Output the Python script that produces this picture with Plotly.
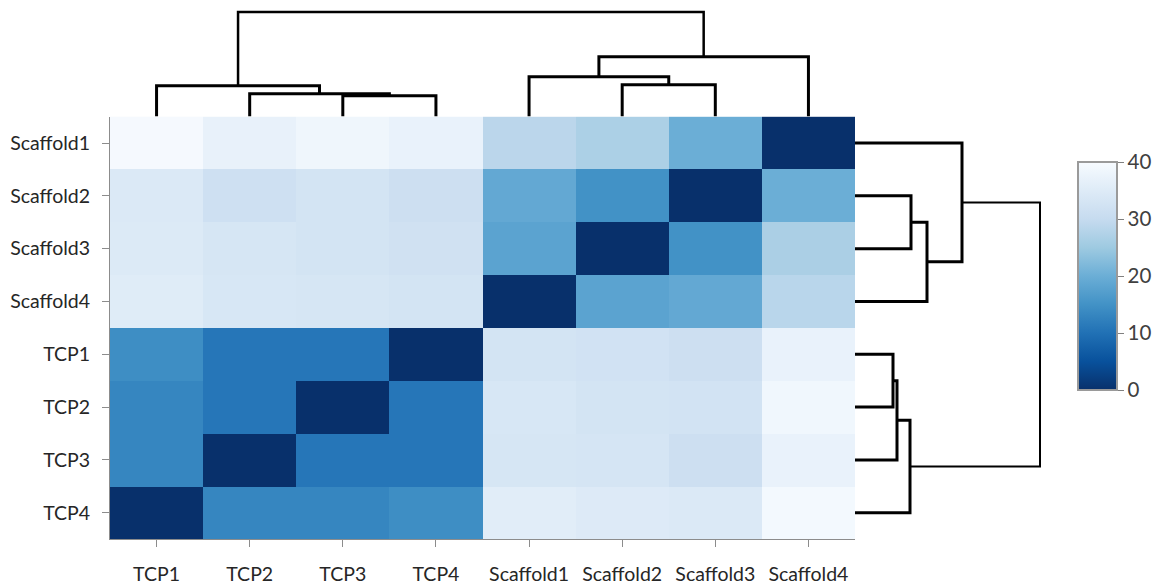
import plotly.graph_objects as go

# Column order (left to right) and row order (top to bottom)
col_labels = ["TCP1", "TCP2", "TCP3", "TCP4", "Scaffold1", "Scaffold2", "Scaffold3", "Scaffold4"]
row_labels = ["Scaffold1", "Scaffold2", "Scaffold3", "Scaffold4", "TCP1", "TCP2", "TCP3", "TCP4"]

# Distance matrix, one list per row
scaffold1 = [39.5, 37.0, 38.4, 37.2, 28.6, 26.8, 20.0, 0.0]
scaffold2 = [34.4, 31.6, 32.8, 31.4, 19.0, 15.0, 0.0, 20.0]
scaffold3 = [34.6, 33.4, 32.8, 32.0, 18.0, 0.0, 15.0, 26.6]
scaffold4 = [35.2, 33.6, 33.4, 32.8, 0.0, 18.0, 19.0, 28.4]
tcp1 = [14.4, 10.8, 10.8, 0.0, 32.8, 32.2, 31.4, 37.2]
tcp2 = [13.2, 10.8, 0.0, 10.8, 33.6, 32.8, 32.6, 38.6]
tcp3 = [13.2, 0.0, 10.8, 10.8, 33.4, 33.2, 31.4, 37.2]
tcp4 = [0.0, 13.2, 13.2, 14.4, 35.6, 34.8, 34.4, 39.3]

# Linkage merges: (child a, child b, merge height); leaves are 0..7, new nodes 8, 9, ...
col_merges = [(2, 3, 21), (1, 8, 23), (0, 9, 31), (5, 6, 32), (4, 11, 40), (12, 7, 60), (10, 13, 105)]
row_merges = [(1, 2, 56), (8, 3, 72), (0, 9, 107), (4, 5, 38), (11, 6, 42), (12, 7, 55), (10, 13, 185)]

colorbar_ticks = [0, 10, 20, 30, 40]

z = [scaffold1, scaffold2, scaffold3, scaffold4, tcp1, tcp2, tcp3, tcp4]

blues_r = [
    [0.0, "#08306b"], [0.125, "#08519c"], [0.25, "#2171b5"], [0.375, "#4292c6"],
    [0.5, "#6baed6"], [0.625, "#9ecae1"], [0.75, "#c6dbef"], [0.875, "#deebf7"],
    [1.0, "#f7fbff"],
]

W, H = 1161, 585
FONT = "Lato, 'Open Sans', sans-serif"
TEXT = "#262626"


def dendro_segments(merges, n_leaves):
    """Return list of (positions, heights, is_root) U-links for a linkage."""
    pos = {i: float(i) for i in range(n_leaves)}
    hgt = {i: 0.0 for i in range(n_leaves)}
    segs = []
    for k, (a, b, h) in enumerate(merges):
        node = n_leaves + k
        segs.append(([pos[a], pos[a], pos[b], pos[b]], [hgt[a], h, h, hgt[b]], k == len(merges) - 1))
        pos[node] = (pos[a] + pos[b]) / 2
        hgt[node] = h
    return segs


fig = go.Figure()

fig.add_trace(go.Heatmap(
    z=z, x=col_labels, y=row_labels,
    colorscale=blues_r, zmin=0, zmax=40,
    xaxis="x", yaxis="y",
    colorbar=dict(
        x=1078 / W, xanchor="left", xpad=0, ypad=0,
        y=1 - 277 / H, yanchor="middle",
        len=228, lenmode="pixels", thickness=39,
        outlinewidth=2, outlinecolor="#9a9a9a",
        tickvals=colorbar_ticks, ticks="outside", ticklen=6, tickcolor="#808080",
        tickfont=dict(family=FONT, size=20.5, color="#404040"),
    ),
))

# Column dendrogram (above the heatmap)
for xs, hs, root in dendro_segments(col_merges, len(col_labels)):
    fig.add_trace(go.Scatter(x=xs, y=hs, mode="lines", xaxis="x2", yaxis="y2",
                             line=dict(color="black", width=2.5 if root else 3),
                             hoverinfo="skip", showlegend=False))

# Row dendrogram (right of the heatmap)
for ys, hs, root in dendro_segments(row_merges, len(row_labels)):
    fig.add_trace(go.Scatter(x=hs, y=ys, mode="lines", xaxis="x3", yaxis="y3",
                             line=dict(color="black", width=2 if root else 3),
                             hoverinfo="skip", showlegend=False))

x0, x1 = 110 / W, 855 / W
y0, y1 = 1 - 541 / H, 1 - 117 / H

axis_font = dict(family=FONT, size=19.5, color=TEXT)

fig.update_layout(
    width=W, height=H,
    margin=dict(l=0, r=0, t=0, b=0),
    paper_bgcolor="white", plot_bgcolor="white",
    showlegend=False,
    xaxis=dict(domain=[x0, x1], anchor="y", showline=True, linecolor="#8c8c8c", linewidth=1,
               ticks="outside", ticklen=7, tickcolor="#8c8c8c", tickfont=axis_font,
               ticklabelstandoff=10, showgrid=False, zeroline=False),
    yaxis=dict(domain=[y0, y1], anchor="x", autorange="reversed", showline=True,
               linecolor="#8c8c8c", linewidth=1, ticks="outside", ticklen=7,
               tickcolor="#8c8c8c", tickfont=axis_font, ticklabelstandoff=8,
               showgrid=False, zeroline=False),
    xaxis2=dict(domain=[x0, x1], anchor="y2", range=[-0.5, 7.5], visible=False),
    yaxis2=dict(domain=[y1, 1.0], anchor="x2", range=[0, 117], visible=False),
    xaxis3=dict(domain=[x1, 1055 / W], anchor="y3", range=[0, 200], visible=False),
    yaxis3=dict(domain=[y0, y1], anchor="x3", range=[7.5, -0.5], visible=False),
)

fig.write_html("out.html")
